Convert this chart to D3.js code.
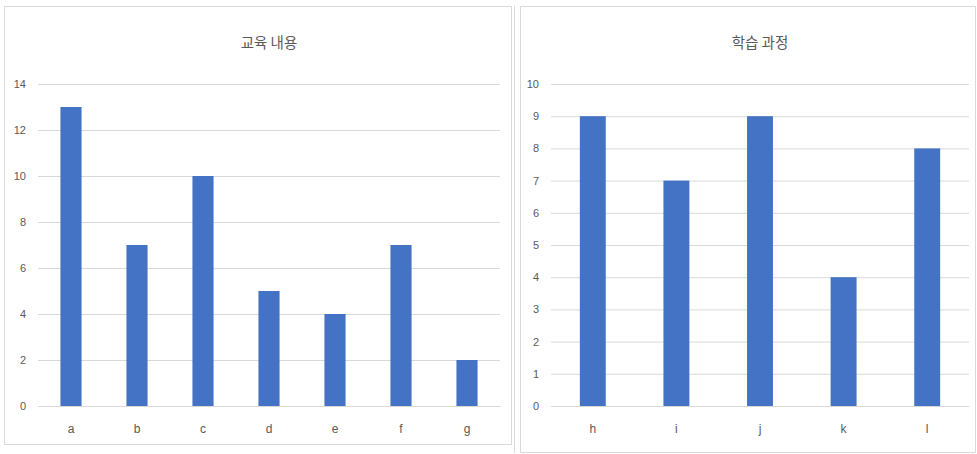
<!DOCTYPE html>
<html>
<head>
<meta charset="utf-8">
<script src="https://cdn.jsdelivr.net/npm/d3@7"></script>
<style>
  body { margin: 0; background: #fff; }
  svg { display: block; font-family: "Noto Sans CJK KR", "Noto Sans", sans-serif; }
</style>
</head>
<body>
<svg id="chart" width="977" height="454"></svg>
<script>
// données
const leftCategories = ["a", "b", "c", "d", "e", "f", "g"];
const leftValues = [13, 7, 10, 5, 4, 7, 2];
const leftTicks = [0, 2, 4, 6, 8, 10, 12, 14];

const rightCategories = ["h", "i", "j", "k", "l"];
const rightValues = [9, 7, 9, 4, 8];
const rightTicks = [0, 1, 2, 3, 4, 5, 6, 7, 8, 9, 10];

const svg = d3.select("#chart");
const barColor = "#4472c4";
const gridColor = "#d9d9d9";
const textColor = "#595959";

// cadres des panneaux
svg.append("rect").attr("x", 4.5).attr("y", 6.5).attr("width", 507).attr("height", 438)
  .attr("fill", "none").attr("stroke", gridColor);
svg.append("line").attr("x1", 514.5).attr("x2", 514.5).attr("y1", 6).attr("y2", 453)
  .attr("stroke", gridColor);
svg.append("rect").attr("x", 520.5).attr("y", 6.5).attr("width", 455).attr("height", 446)
  .attr("fill", "none").attr("stroke", gridColor);

function drawPanel(cfg) {
  const x = d3.scaleBand()
    .domain(cfg.categories)
    .range([cfg.left, cfg.right])
    .paddingInner(cfg.pad)
    .paddingOuter(cfg.pad / 2);

  const y = d3.scaleLinear()
    .domain([0, cfg.max])
    .range([406, 84]);

  const g = svg.append("g");

  // titre
  g.append("text")
    .attr("x", (cfg.left + cfg.right) / 2)
    .attr("y", 48)
    .attr("text-anchor", "middle")
    .attr("font-size", 14.5)
    .attr("fill", textColor)
    .text(cfg.title);

  // axe Y + grille
  const yAxis = g.append("g")
    .attr("transform", `translate(${cfg.left},0)`)
    .call(d3.axisLeft(y).tickValues(cfg.ticks).tickSize(-(cfg.right - cfg.left)).tickPadding(12));
  yAxis.select(".domain").remove();
  yAxis.selectAll("line").attr("stroke", gridColor);
  yAxis.selectAll("text").attr("fill", textColor).attr("font-size", 11);

  // barres
  g.selectAll("rect.bar")
    .data(cfg.values)
    .join("rect")
    .attr("class", "bar")
    .attr("x", (d, i) => x(cfg.categories[i]))
    .attr("y", d => y(d))
    .attr("width", x.bandwidth())
    .attr("height", d => y(0) - y(d))
    .attr("fill", barColor);

  // axe X
  const xAxis = g.append("g")
    .attr("transform", `translate(0,${y(0)})`)
    .call(d3.axisBottom(x).tickSize(0).tickPadding(18));
  xAxis.select(".domain").attr("stroke", gridColor);
  xAxis.selectAll("text").attr("fill", textColor).attr("font-size", 12);
}

drawPanel({
  title: "교육 내용",
  categories: leftCategories,
  values: leftValues,
  ticks: leftTicks,
  max: 14,
  left: 38,
  right: 500,
  pad: 0.68
});

drawPanel({
  title: "학습 과정",
  categories: rightCategories,
  values: rightValues,
  ticks: rightTicks,
  max: 10,
  left: 551,
  right: 969,
  pad: 0.69
});
</script>
</body>
</html>
